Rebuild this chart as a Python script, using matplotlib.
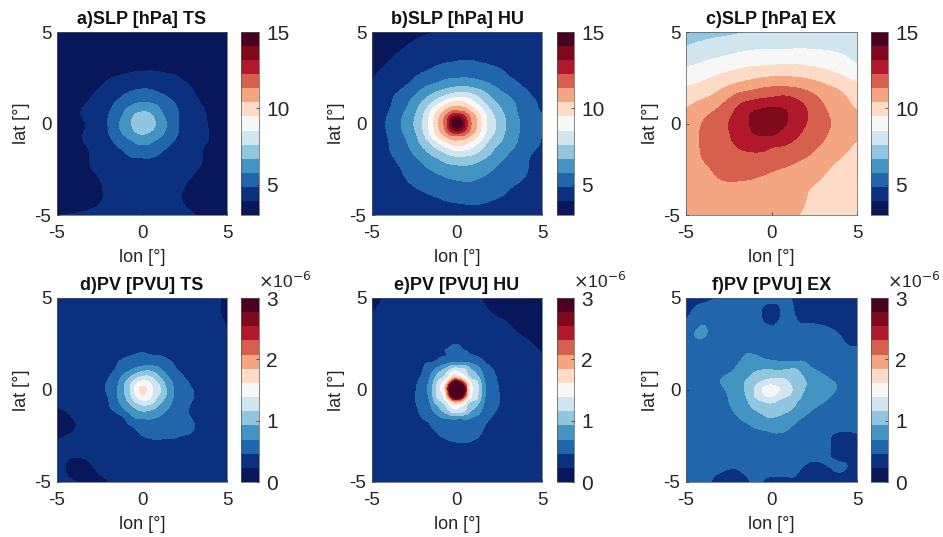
import numpy as np
import matplotlib
matplotlib.use("Agg")
import matplotlib.pyplot as plt
import matplotlib.tri as mtri
from matplotlib.cm import ScalarMappable
from matplotlib.colors import BoundaryNorm, ListedColormap

plt.rcParams['font.family'] = ['Liberation Sans', 'DejaVu Sans']

# grid nodes, finer near the centre
grid = [-5, -4, -3, -2, -1.5, -1, -0.5, 0, 0.5, 1, 1.5, 2, 3, 4, 5]
coarse = [-5, -4, -3, -2, -1, 0, 1, 2, 3, 4, 5]

band_colors = ['#08175a', '#0b307f', '#2166ac', '#4393c3', '#92c5de', '#d1e5f0', '#f7f7f7',
               '#fddbc7', '#f4a582', '#d6604d', '#b2182b', '#7f0a1c', '#4a0020']

# values, rows run from lat 5 down to lat -5
slp_ts = [
    [3.2, 3.3, 3.4, 3.4, 3.4, 3.5, 3.5, 3.5, 3.5, 3.5, 3.5, 3.5, 3.5, 3.4, 3.3],
    [3.3, 3.4, 3.45, 3.5, 3.55, 3.6, 3.6, 3.6, 3.6, 3.6, 3.6, 3.6, 3.6, 3.5, 3.4],
    [3.35, 3.45, 3.55, 3.65, 3.7, 3.75, 3.8, 3.83, 3.85, 3.83, 3.8, 3.78, 3.65, 3.55, 3.45],
    [3.4, 3.55, 3.75, 4.1, 4.3, 4.5, 4.65, 4.72, 4.7, 4.55, 4.4, 4.2, 3.88, 3.65, 3.5],
    [3.45, 3.65, 3.9, 4.3, 4.6, 4.95, 5.15, 5.3, 5.25, 5.05, 4.8, 4.5, 4.0, 3.7, 3.5],
    [3.5, 3.75, 4.05, 4.55, 5.05, 5.45, 5.85, 6.0, 5.95, 5.65, 5.2, 4.85, 4.15, 3.78, 3.55],
    [3.55, 3.82, 4.15, 4.8, 5.3, 5.95, 6.6, 6.95, 6.75, 6.1, 5.45, 4.95, 4.25, 3.85, 3.6],
    [3.55, 3.75, 4.05, 4.85, 5.5, 6.2, 6.85, 7.4, 7.0, 6.45, 5.65, 5.0, 4.25, 3.88, 3.65],
    [3.55, 3.78, 4.08, 4.8, 5.35, 6.0, 6.5, 6.85, 6.6, 6.15, 5.5, 4.95, 4.28, 3.9, 3.65],
    [3.55, 3.75, 4.05, 4.55, 5.0, 5.35, 5.75, 6.0, 5.85, 5.5, 5.1, 4.72, 4.2, 3.88, 3.65],
    [3.5, 3.7, 3.95, 4.35, 4.65, 4.9, 5.25, 5.35, 5.3, 5.0, 4.7, 4.45, 4.1, 3.8, 3.6],
    [3.45, 3.6, 3.95, 4.2, 4.4, 4.55, 4.7, 4.72, 4.72, 4.6, 4.45, 4.25, 4.05, 3.8, 3.55],
    [3.4, 3.55, 3.8, 4.05, 4.15, 4.2, 4.25, 4.25, 4.25, 4.2, 4.15, 4.08, 3.88, 3.6, 3.45],
    [3.45, 3.55, 3.75, 4.0, 4.1, 4.12, 4.15, 4.15, 4.15, 4.12, 4.05, 3.98, 3.75, 3.5, 3.4],
    [3.9, 3.98, 4.05, 4.1, 4.12, 4.15, 4.15, 4.15, 4.15, 4.15, 4.12, 4.08, 3.96, 3.7, 3.5],
]

slp_hu = [
    [3.2, 3.45, 3.7, 3.85, 3.9, 3.95, 4.05, 4.15, 4.2, 4.25, 4.25, 4.25, 4.25, 4.25, 4.2],
    [3.5, 3.72, 4.0, 4.2, 4.3, 4.4, 4.45, 4.5, 4.55, 4.55, 4.55, 4.5, 4.45, 4.4, 4.3],
    [3.78, 4.05, 4.4, 4.7, 4.85, 5.0, 5.1, 5.15, 5.2, 5.15, 5.05, 4.95, 4.75, 4.55, 4.35],
    [4.0, 4.45, 4.9, 5.65, 5.95, 6.25, 6.55, 6.7, 6.75, 6.55, 6.3, 5.95, 5.25, 4.8, 4.5],
    [4.2, 4.65, 5.35, 6.3, 6.85, 7.4, 7.9, 8.3, 8.25, 7.8, 7.2, 6.6, 5.8, 5.05, 4.7],
    [4.3, 4.75, 5.65, 7.0, 7.85, 8.9, 9.75, 10.15, 9.85, 9.0, 8.1, 7.2, 6.2, 5.25, 4.75],
    [4.35, 4.9, 5.95, 7.5, 8.9, 10.2, 11.6, 12.6, 11.7, 10.35, 9.0, 7.85, 6.4, 5.35, 4.85],
    [4.35, 5.0, 6.1, 7.7, 9.0, 10.6, 12.8, 15.4, 12.9, 10.85, 9.2, 8.05, 6.5, 5.5, 4.9],
    [4.3, 4.95, 5.95, 7.5, 8.9, 10.2, 11.6, 12.5, 11.7, 10.35, 9.0, 7.9, 6.45, 5.45, 4.85],
    [4.3, 4.85, 5.7, 7.05, 7.9, 8.9, 9.7, 10.1, 9.85, 9.05, 8.2, 7.3, 6.3, 5.35, 4.8],
    [4.25, 4.8, 5.5, 6.45, 7.0, 7.55, 8.1, 8.5, 8.35, 8.0, 7.4, 6.8, 5.9, 5.1, 4.7],
    [4.2, 4.65, 5.2, 5.95, 6.3, 6.65, 7.0, 7.15, 7.15, 7.0, 6.65, 6.3, 5.55, 4.95, 4.55],
    [4.1, 4.45, 4.85, 5.25, 5.45, 5.6, 5.75, 5.85, 5.9, 5.85, 5.7, 5.5, 5.05, 4.82, 4.35],
    [4.05, 4.25, 4.5, 4.7, 4.8, 4.9, 5.0, 5.05, 5.1, 5.1, 5.05, 4.95, 4.75, 4.45, 4.25],
    [4.0, 4.1, 4.25, 4.35, 4.4, 4.45, 4.5, 4.55, 4.55, 4.55, 4.55, 4.5, 4.35, 4.2, 4.1],
]

# this one is smooth, the coarse grid is enough
slp_ex = [
    [7.2, 7.3, 7.4, 7.52, 7.65, 7.7, 7.75, 7.8, 7.8, 7.8, 7.75],
    [7.75, 8.0, 8.2, 8.4, 8.55, 8.6, 8.6, 8.6, 8.55, 8.45, 8.3],
    [8.6, 8.85, 9.15, 9.4, 9.6, 9.7, 9.75, 9.65, 9.45, 9.1, 8.7],
    [9.45, 9.75, 10.2, 10.7, 11.05, 11.3, 11.3, 11.05, 10.6, 10.2, 9.7],
    [10.25, 10.7, 11.25, 12.15, 12.7, 12.95, 12.85, 12.15, 11.35, 10.75, 10.25],
    [10.85, 11.35, 12.0, 12.5, 13.5, 13.9, 13.0, 12.25, 11.55, 11.1, 10.6],
    [11.0, 11.4, 11.85, 12.35, 12.7, 12.6, 12.3, 11.85, 11.3, 10.8, 10.35],
    [11.0, 11.3, 11.6, 11.85, 11.95, 11.8, 11.55, 11.2, 10.75, 10.35, 10.0],
    [10.9, 11.0, 11.32, 11.38, 11.3, 11.05, 10.85, 10.6, 10.35, 10.0, 9.75],
    [10.8, 10.85, 10.9, 10.95, 10.9, 10.8, 10.6, 10.4, 10.1, 9.85, 9.6],
    [10.7, 10.7, 10.7, 10.7, 10.65, 10.55, 10.45, 10.3, 9.95, 9.7, 9.5],
]

# PV in units of 1e-6
pv_ts = [
    [.34, .36, .36, .35, .36, .35, .36, .35, .36, .35, .36, .35, .34, .31, .18],
    [.33, .34, .35, .36, .37, .37, .37, .37, .37, .37, .37, .36, .35, .31, .18],
    [.33, .35, .36, .37, .38, .39, .40, .41, .41, .40, .39, .38, .36, .33, .28],
    [.34, .36, .37, .39, .41, .43, .45, .465, .45, .44, .42, .41, .37, .34, .31],
    [.34, .36, .38, .41, .45, .50, .55, .58, .59, .57, .50, .44, .38, .35, .32],
    [.34, .36, .38, .43, .50, .64, .79, .92, .94, .79, .62, .49, .39, .35, .32],
    [.34, .36, .39, .47, .62, .87, 1.16, 1.38, 1.30, 1.05, .78, .60, .42, .36, .33],
    [.33, .35, .39, .49, .66, .95, 1.33, 1.68, 1.46, 1.20, .87, .64, .46, .37, .33],
    [.31, .33, .38, .455, .65, .88, 1.17, 1.42, 1.34, 1.05, .83, .62, .46, .37, .33],
    [.22, .28, .37, .44, .53, .72, .88, 1.02, .98, .85, .70, .58, .44, .36, .33],
    [.20, .24, .35, .40, .42, .48, .67, .72, .72, .67, .60, .52, .45, .36, .33],
    [.20, .22, .33, .37, .39, .42, .465, .55, .58, .57, .55, .53, .47, .37, .33],
    [.25, .29, .33, .35, .37, .38, .39, .40, .42, .42, .41, .40, .37, .35, .33],
    [.30, .19, .23, .33, .34, .35, .36, .37, .38, .38, .37, .37, .35, .34, .33],
    [.32, .24, .19, .22, .33, .35, .36, .36, .36, .36, .36, .36, .35, .34, .33],
]

pv_hu = [
    [.18, .25, .30, .32, .32, .32, .32, .31, .28, .25, .22, .20, .16, .13, .10],
    [.24, .30, .33, .35, .35, .35, .35, .34, .33, .32, .28, .245, .21, .17, .14],
    [.30, .33, .35, .37, .38, .39, .39, .39, .38, .38, .36, .34, .27, .22, .18],
    [.33, .35, .37, .41, .43, .45, .465, .47, .465, .45, .43, .41, .33, .27, .23],
    [.34, .36, .36, .44, .46, .55, .65, .70, .70, .62, .49, .43, .35, .29, .26],
    [.34, .36, .36, .47, .66, .92, 1.2, 1.4, 1.2, .92, .66, .49, .35, .32, .28],
    [.34, .36, .36, .53, .80, 1.2, 1.7, 2.5, 1.7, 1.2, .80, .53, .36, .33, .30],
    [.34, .35, .36, .57, .87, 1.35, 2.5, 4.5, 2.5, 1.35, .87, .57, .36, .33, .30],
    [.33, .35, .37, .56, .80, 1.2, 1.7, 2.5, 1.7, 1.2, .80, .56, .37, .33, .31],
    [.33, .35, .36, .52, .68, .92, 1.2, 1.4, 1.2, .92, .68, .52, .36, .33, .31],
    [.32, .34, .34, .47, .55, .66, .74, .76, .76, .66, .57, .46, .35, .32, .31],
    [.32, .33, .33, .38, .46, .52, .57, .60, .60, .55, .48, .41, .34, .32, .30],
    [.31, .32, .32, .34, .36, .38, .40, .42, .43, .41, .38, .36, .33, .31, .30],
    [.31, .31, .32, .33, .33, .34, .34, .34, .34, .34, .34, .33, .32, .31, .30],
    [.30, .31, .31, .32, .32, .32, .32, .32, .32, .32, .32, .32, .31, .31, .30],
]

pv_ex = [
    [.40, .42, .47, .50, .50, .50, .50, .49, .49, .47, .44, .42, .38, .36, .35],
    [.42, .60, .60, .56, .53, .50, .45, .42, .46, .50, .45, .43, .41, .38, .36],
    [.58, .71, .58, .58, .56, .55, .54, .54, .54, .54, .53, .52, .50, .46, .40],
    [.55, .56, .57, .60, .68, .68, .66, .65, .64, .63, .62, .60, .54, .50, .49],
    [.54, .55, .58, .67, .76, .78, .75, .73, .71, .71, .72, .69, .60, .54, .50],
    [.54, .56, .63, .74, .82, .91, .96, .97, .97, .99, .96, .80, .67, .58, .52],
    [.54, .58, .69, .80, .92, 1.05, 1.15, 1.22, 1.23, 1.14, .99, .92, .76, .66, .56],
    [.54, .58, .65, .82, .95, 1.16, 1.40, 1.50, 1.37, 1.22, 1.03, .91, .78, .67, .58],
    [.54, .57, .62, .78, .89, 1.10, 1.22, 1.28, 1.15, 1.08, .95, .87, .73, .62, .55],
    [.52, .55, .60, .74, .82, .94, 1.00, 1.05, 1.02, .96, .86, .76, .63, .56, .52],
    [.52, .53, .56, .68, .75, .80, .88, .92, .88, .82, .74, .67, .57, .52, .50],
    [.52, .53, .54, .60, .64, .70, .73, .76, .76, .71, .65, .60, .53, .50, .49],
    [.52, .52, .52, .55, .56, .58, .60, .60, .60, .59, .57, .55, .52, .38, .40],
    [.52, .50, .49, .49, .50, .50, .52, .54, .55, .54, .50, .465, .46, .47, .42],
    [.50, .49, .42, .40, .44, .48, .455, .42, .41, .42, .44, .40, .38, .38, .36],
]

slp_levels = np.linspace(3, 15, 14)
pv_levels = np.linspace(0, 3, 14)
slp_ticks = [5, 10, 15]
pv_ticks = [0, 1, 2, 3]

titles = ['a)SLP [hPa] TS', 'b)SLP [hPa] HU', 'c)SLP [hPa] EX',
          'd)PV [PVU] TS', 'e)PV [PVU] HU', 'f)PV [PVU] EX']
fields = [slp_ts, slp_hu, slp_ex, pv_ts, pv_hu, pv_ex]
nodes = [grid, grid, coarse, grid, grid, grid]

W, H = 943, 537
ax_x = [(57, 227), (372, 542), (686, 857)]
cb_x = [(241, 259), (557, 574), (871, 888)]
rows_y = [(32, 215), (298, 482)]
text_color = '#262626'


def px_rect(x0, x1, y0, y1):
    return [x0 / W, 1 - y1 / H, (x1 - x0) / W, (y1 - y0) / H]


cmap = ListedColormap(band_colors).with_extremes(over=band_colors[-1], under=band_colors[0])
fig = plt.figure(figsize=(W / 100, H / 100), dpi=100)

for i, (name, field, node) in enumerate(zip(titles, fields, nodes)):
    row, col = divmod(i, 3)
    levels = slp_levels if row == 0 else pv_levels
    norm = BoundaryNorm(levels, len(band_colors))

    ax = fig.add_axes(px_rect(*ax_x[col], *rows_y[row]))
    values = np.array(field)[::-1]
    # smooth the contour lines between the read values
    lon2d, lat2d = np.meshgrid(node, node)
    triang = mtri.Triangulation(lon2d.ravel(), lat2d.ravel())
    fine_tri, fine_values = mtri.UniformTriRefiner(triang).refine_field(values.ravel(), subdiv=3)
    ax.tricontourf(fine_tri, fine_values, levels=levels, cmap=cmap, norm=norm, extend='both')
    ax.set_xlim(-5, 5)
    ax.set_ylim(-5, 5)
    ax.set_xticks([-5, 0, 5])
    ax.set_yticks([-5, 0, 5])
    ax.set_xticklabels(['-5', '0', '5'])
    ax.set_yticklabels(['-5', '0', '5'])
    ax.tick_params(direction='in', length=2, width=0.5, labelsize=13.5, colors=text_color)
    ax.tick_params(axis='x', pad=7)
    ax.tick_params(axis='y', pad=4)
    ax.set_xlabel('lon [°]', fontsize=13, color=text_color, labelpad=5)
    ax.set_ylabel('lat [°]', fontsize=13, color=text_color, labelpad=3)
    ax.set_title(name, fontsize=13, fontweight='bold', color='#111111', pad=6)
    for spine in ax.spines.values():
        spine.set_linewidth(0.5)
        spine.set_color('#555555')

    cax = fig.add_axes(px_rect(*cb_x[col], *rows_y[row]))
    cb = fig.colorbar(ScalarMappable(norm=norm, cmap=ListedColormap(band_colors)), cax=cax,
                      spacing='proportional', drawedges=False)
    cb.set_ticks(slp_ticks if row == 0 else pv_ticks)
    cb.ax.minorticks_off()
    cb.ax.tick_params(direction='in', length=2, width=0.5, labelsize=15, colors=text_color, pad=5)
    cb.outline.set_linewidth(0.5)
    cb.outline.set_edgecolor('#555555')
    if row == 1:
        cax.text(0.95, 1.04, r'$\times$10$^{-6}$', transform=cax.transAxes, fontsize=12.5,
                 color=text_color, ha='left', va='bottom', math_fontfamily='custom')

fig.savefig('out.png', dpi=100)
